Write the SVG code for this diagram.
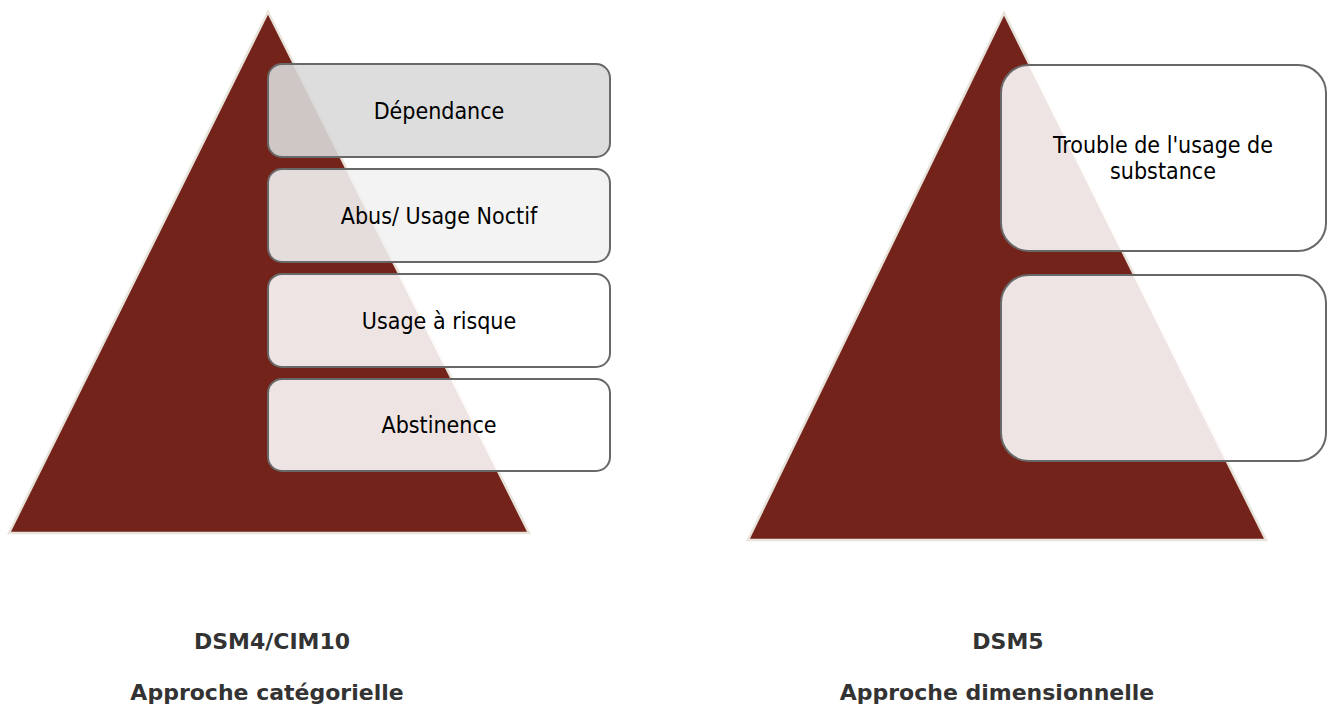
<svg xmlns="http://www.w3.org/2000/svg" width="1334" height="704" viewBox="0 0 1334 704">
  <style>
    .tri { fill: #74231a; stroke: #e8e4dc; stroke-width: 2.5; stroke-linejoin: miter; }
    .box { stroke: #686868; stroke-width: 2; }
    .lbl { font-family: "DejaVu Sans Condensed", "Liberation Sans", sans-serif; font-size: 23px; fill: #000; text-anchor: middle; }
    .cap { font-family: "DejaVu Sans", "Liberation Sans", sans-serif; font-weight: bold; font-size: 22px; fill: #333; text-anchor: middle; }
  </style>
  <rect width="1334" height="704" fill="#fff"/>

  <!-- Left pyramid: categorical levels -->
  <g id="pyramid-left">
    <polygon class="tri" points="268,12 9,533 529,533"/>
  </g>
  <g id="level-dependance">
    <rect class="box" x="268" y="64" width="342" height="93" rx="14" fill="#d9d9d9" fill-opacity="0.9"/>
    <text class="lbl" x="439" y="119">Dépendance</text>
  </g>
  <g id="level-abus">
    <rect class="box" x="268" y="169" width="342" height="93" rx="14" fill="#f2f2f2" fill-opacity="0.9"/>
    <text class="lbl" x="439" y="224">Abus/ Usage Noctif</text>
  </g>
  <g id="level-risque">
    <rect class="box" x="268" y="274" width="342" height="93" rx="14" fill="#ffffff" fill-opacity="0.88"/>
    <text class="lbl" x="439" y="329">Usage à risque</text>
  </g>
  <g id="level-abstinence">
    <rect class="box" x="268" y="379" width="342" height="92" rx="14" fill="#ffffff" fill-opacity="0.88"/>
    <text class="lbl" x="439" y="433">Abstinence</text>
  </g>

  <!-- Right pyramid: dimensional approach -->
  <g id="pyramid-right">
    <polygon class="tri" points="1004,13 748,540 1266,540"/>
  </g>
  <g id="trouble-usage">
    <rect class="box" x="1001" y="65" width="325" height="186" rx="28" fill="#ffffff" fill-opacity="0.88"/>
    <text class="lbl" x="1163" y="153">Trouble de l'usage de</text>
    <text class="lbl" x="1163" y="179">substance</text>
  </g>
  <g id="empty-level">
    <rect class="box" x="1001" y="275" width="325" height="186" rx="28" fill="#ffffff" fill-opacity="0.88"/>
  </g>

  <!-- Captions -->
  <g id="caption-left">
    <text class="cap" x="272" y="649">DSM4/CIM10</text>
    <text class="cap" x="267" y="700">Approche catégorielle</text>
  </g>
  <g id="caption-right">
    <text class="cap" x="1008" y="649">DSM5</text>
    <text class="cap" x="997" y="700">Approche dimensionnelle</text>
  </g>

  <g id="connectors"></g>
</svg>
